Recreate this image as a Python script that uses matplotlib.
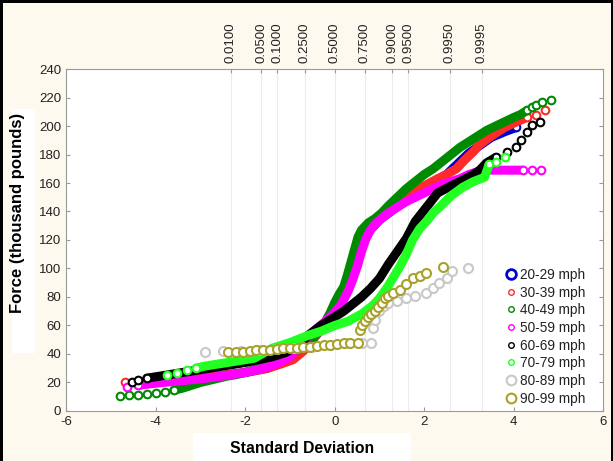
import matplotlib
matplotlib.use("Agg")
import matplotlib.pyplot as plt
from matplotlib.lines import Line2D
from matplotlib.patches import Rectangle

plt.rcParams['font.family'] = ['Liberation Sans', 'DejaVu Sans']

# normal quantile (x) vs force in thousand pounds (y)
z_20 = [-3.5, -3.0, -2.5, -2.0, -1.5, -1.0, -0.5, 0.0, 0.4, 0.7, 1.0, 1.5, 2.0, 2.5, 3.0, 3.5, 3.8, 4.06]
f_20 = [22, 23, 25, 27, 30, 36, 50, 68, 98, 124, 134, 146, 157, 166, 181, 192, 196, 199]

z_30 = [-4.69, -4.4, -4.0, -3.5, -3.0, -2.5, -2.0, -1.5, -1.2, -0.93, -0.7, -0.5, -0.3, -0.1, 0.1,
        0.25, 0.4, 0.5, 0.6, 0.7, 0.85, 1.0, 1.2, 1.4, 1.7, 2.0, 2.3, 2.5, 2.72, 2.9, 3.1, 3.24,
        3.5, 3.8, 4.0, 4.29, 4.5, 4.69]
f_30 = [20, 20.5, 21, 22, 23.5, 25, 27, 30, 33, 36, 42, 50, 58, 66, 76,
        87, 100, 110, 118, 125, 131, 135, 140, 145, 152, 158, 163, 166, 170, 176, 182, 187,
        193, 199, 202, 206, 208, 211]

z_40 = [-4.8, -4.6, -4.4, -4.2, -4.0, -3.8, -3.6, -3.4, -3.2, -3.0, -2.8, -2.6, -2.4, -2.2, -2.0,
        -1.8, -1.6, -1.4, -1.2, -1.0, -0.8, -0.65, -0.5, -0.35, -0.22, -0.1, 0.0, 0.1, 0.2, 0.28,
        0.36, 0.44, 0.52, 0.6, 0.75, 0.9, 1.05, 1.2, 1.4, 1.6, 1.8, 2.0, 2.2, 2.4, 2.6, 2.8, 3.0,
        3.2, 3.4, 3.6, 3.8, 4.0, 4.15, 4.3, 4.4, 4.5, 4.64, 4.84]
f_40 = [10.5, 11, 11.5, 12, 12.5, 13.5, 14.5, 16, 18, 20, 21.5, 23, 24.5, 25.5, 27,
        29, 31, 33, 36, 39, 44, 47, 50, 57, 62, 69, 76, 82, 87, 95,
        104, 113, 122, 127, 132, 135, 139, 144, 150, 156, 161, 166, 170, 175, 180, 185, 189,
        193, 197, 200, 203, 206, 208, 211, 213, 215, 217, 218]

z_50 = [-4.65, -4.4, -4.0, -3.5, -3.0, -2.5, -2.0, -1.6, -1.3, -1.0, -0.8, -0.6, -0.4, -0.2, 0.0,
        0.15, 0.3, 0.4, 0.5, 0.6, 0.7, 0.8, 0.9, 1.0, 1.2, 1.4, 1.6, 1.8, 2.0, 2.2, 2.4, 2.6,
        2.8, 3.0, 3.2, 3.4, 3.6, 3.8, 4.0, 4.2, 4.4, 4.62]
f_50 = [17, 18, 19.5, 21, 22.5, 24.5, 27, 30, 33, 38, 45, 52, 58, 63, 69,
        75, 84, 92, 101, 112, 121, 127, 131, 134, 139, 143, 147, 150, 153, 156, 159, 161,
        163, 166, 168, 169, 169, 169, 169, 169, 169, 169]

z_60 = [-4.53, -4.4, -4.2, -4.0, -3.8, -3.6, -3.4, -3.2, -3.0, -2.8, -2.5, -2.2, -2.0, -1.7, -1.4,
        -1.1, -0.8, -0.6, -0.3, 0.0, 0.2, 0.4, 0.6, 0.8, 1.0, 1.2, 1.4, 1.6, 1.8, 2.0, 2.3, 2.6,
        2.86, 3.1, 3.24, 3.39, 3.6, 3.84, 4.06, 4.17, 4.29, 4.4, 4.58]
f_60 = [20.5, 22, 23, 24, 25, 26, 27, 28, 29, 30, 31.5, 33, 34, 36, 38,
        41, 46, 53, 60, 66, 70, 75, 80, 86, 93, 103, 112, 121, 133, 141, 153, 158,
        162, 166, 169, 174, 178, 182, 185, 190, 196, 201, 203]

z_70 = [-3.75, -3.53, -3.3, -3.1, -2.9, -2.6, -2.4, -2.1, -1.8, -1.4, -1.0, -0.6, -0.3, 0.0, 0.3,
        0.6, 0.85, 1.0, 1.2, 1.45, 1.6, 1.74, 1.9, 2.05, 2.2, 2.34, 2.6, 2.86, 3.1, 3.35, 3.45,
        3.6, 3.8]
f_70 = [25, 27, 29, 30, 31.5, 33, 34, 35.5, 37, 44, 48, 53, 56, 60, 63,
        68, 74, 79, 88, 101, 110, 120, 128, 133, 139, 143, 151, 157, 161, 164, 173,
        175, 178]

z_80 = [-2.9, -2.5, -2.1, -1.7, -1.3, -0.9, -0.5, -0.1, 0.3, 0.6, 0.82, 0.86, 0.9, 1.0, 1.1, 1.2,
        1.4, 1.6, 1.8, 2.05, 2.2, 2.34, 2.5, 2.63, 2.97]
f_80 = [41.5, 42, 42, 43, 43.5, 44, 45, 46.5, 47.5, 48, 48, 58, 64, 70, 74, 76,
        77.5, 79, 81, 83, 86, 90, 93, 98, 100]

z_90 = [-2.39, -2.2, -2.05, -1.9, -1.75, -1.6, -1.45, -1.3, -1.15, -1.0, -0.85, -0.7, -0.55, -0.4,
        -0.25, -0.1, 0.05, 0.2, 0.35, 0.52, 0.56, 0.62, 0.68, 0.75, 0.82, 0.9, 0.97, 1.05, 1.12,
        1.2, 1.3, 1.45, 1.6, 1.75, 1.9, 2.05, 2.41]
f_90 = [41.5, 41.5, 41.5, 42, 42.5, 43, 43, 43.5, 44, 44, 44.5, 45, 45, 45.5,
        46, 46.5, 47, 47.5, 48, 48, 57, 60, 63, 66, 68, 70, 73, 76, 79,
        81, 83, 85, 89, 93, 95, 97, 101]

labels = ['20-29 mph', '30-39 mph', '40-49 mph', '50-59 mph',
          '60-69 mph', '70-79 mph', '80-89 mph', '90-99 mph']
colors = ['#0000d0', '#ff2a2a', '#008a00', '#ff00ff', '#000000', '#22ff22', '#c8c8c8', '#a8a22c']

prob_labels = ['0.0100', '0.0500', '0.1000', '0.2500', '0.5000',
               '0.7500', '0.9000', '0.9500', '0.9950', '0.9995']
prob_z = [-2.3263, -1.6449, -1.2816, -0.6745, 0.0, 0.6745, 1.2816, 1.6449, 2.5758, 3.2905]

series = [(z_20, f_20), (z_30, f_30), (z_40, f_40), (z_50, f_50),
          (z_60, f_60), (z_70, f_70), (z_80, f_80), (z_90, f_90)]

# where the points pile up into a solid band (index range), None = separate circles only
bands = [(0, 17), (1, 35), (6, 53), (1, 39), (2, 36), (3, 30), None, None]
msizes = [5.5, 5.5, 5.5, 5.5, 5.5, 5.5, 6.5, 6.5]

fig = plt.figure(figsize=(6.13, 4.61), dpi=100, facecolor='#fdf9ee')
ax = fig.add_axes([0.108, 0.1085, 0.876, 0.7418])
ax.set_facecolor('white')

for z in prob_z:
    ax.axvline(z, color='#ececec', lw=0.8, zorder=0)

for k, ((zz, ff), c, ms, band) in enumerate(zip(series, colors, msizes, bands)):
    zo = 2 + k
    if band is None:
        ax.plot(zz, ff, 'o', ms=ms, mfc='white', mec=c, mew=1.5, ls='none', zorder=zo)
        continue
    a, b = band
    ax.plot(zz[a:b + 1], ff[a:b + 1], '-', color=c, lw=6.5, solid_capstyle='round',
            solid_joinstyle='round', zorder=zo)
    ax.plot(zz[:a + 1], ff[:a + 1], 'o', ms=ms, mfc='white', mec=c, mew=1.5, ls='none', zorder=zo)
    ax.plot(zz[b:], ff[b:], 'o', ms=ms, mfc='white', mec=c, mew=1.5, ls='none', zorder=zo)

ax.set_xlim(-6, 6)
ax.set_ylim(0, 240)
ax.set_xticks([-6, -4, -2, 0, 2, 4, 6])
ax.set_xticklabels(['-6', '-4', '-2', '0', '2', '4', '6'])
ax.set_yticks(range(0, 241, 20))
ax.tick_params(direction='in', length=3, color='#999999', labelsize=9.5, labelcolor='#222222',
               right=True)
for s in ax.spines.values():
    s.set_color('#9a9a9a')

top = ax.twiny()
top.set_xlim(ax.get_xlim())
top.set_xticks(prob_z)
top.set_xticklabels(prob_labels, rotation=90, fontsize=9.5, color='#222222')
top.tick_params(direction='in', length=3, color='#999999', pad=4)
for s in top.spines.values():
    s.set_visible(False)

# white boxes behind the axis titles
fig.patches.append(Rectangle((193 / 613, 0), 218 / 613, 28 / 461, transform=fig.transFigure,
                             facecolor='white', edgecolor='none', zorder=-1))
fig.patches.append(Rectangle((12 / 613, 108 / 461), 23 / 613, 244 / 461, transform=fig.transFigure,
                             facecolor='white', edgecolor='none', zorder=-1))

ax.set_xlabel('Standard Deviation', fontsize=11.3, fontweight='bold')
ax.xaxis.set_label_coords(0.44, -0.087)
ax.set_ylabel('Force (thousand pounds)', fontsize=12, fontweight='bold')
ax.yaxis.set_label_coords(-0.076, 0.579)

handles = []
for i, c in enumerate(colors):
    if i == 0:
        h = Line2D([], [], marker='o', ls='none', ms=7, mfc='white', mec=c, mew=2)
    elif i >= 6:
        h = Line2D([], [], marker='o', ls='none', ms=7, mfc='white', mec=c, mew=1.5)
    else:
        h = Line2D([], [], marker='o', ls='none', ms=4, mfc='white', mec=c, mew=1)
    handles.append(h)
leg = ax.legend(handles, labels, loc='lower right', bbox_to_anchor=(0.985, -0.012), frameon=False,
                fontsize=9.8, handletextpad=0.15, labelspacing=0.27, borderaxespad=0.3,
                handlelength=1.0)
for t in leg.get_texts():
    t.set_color('#222222')

# black frame on the left, top and right of the picture
for x0, y0, w, h in [(0, 0, 3 / 613, 1), (0, 1 - 3 / 461, 1, 3 / 461), (1 - 2 / 613, 0, 2 / 613, 1)]:
    fig.patches.append(Rectangle((x0, y0), w, h, transform=fig.transFigure,
                                 facecolor='black', edgecolor='none', zorder=10))

fig.savefig('out.png', dpi=100, facecolor=fig.get_facecolor())
